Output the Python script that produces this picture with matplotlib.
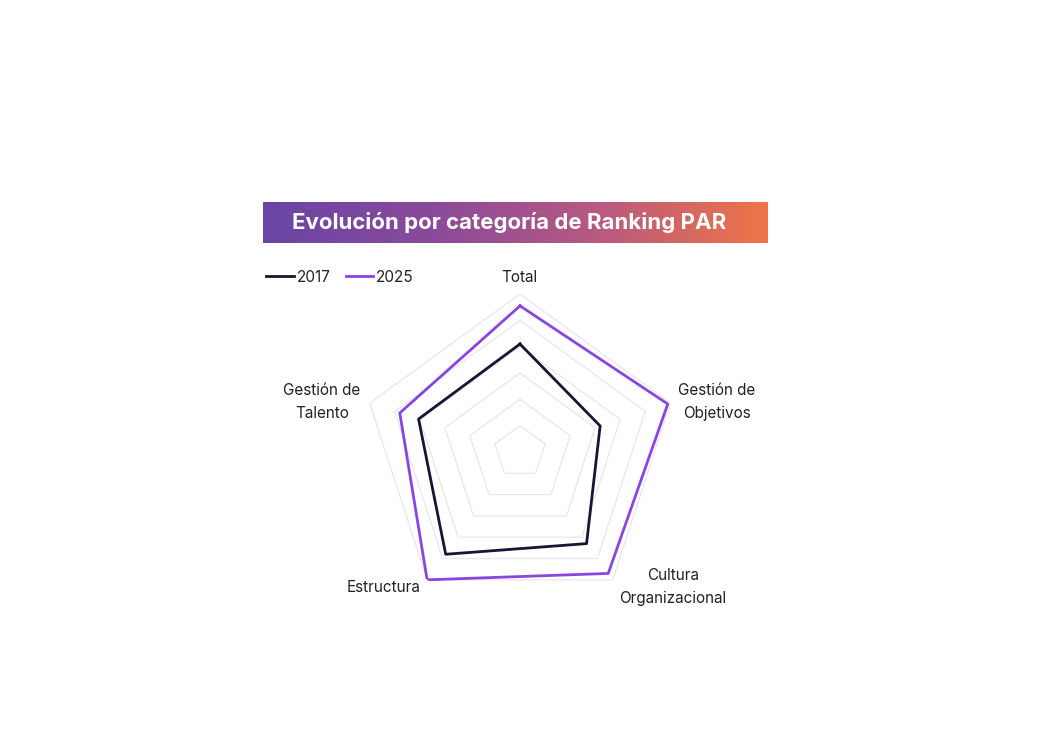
import numpy as np
import matplotlib
matplotlib.use("Agg")
import matplotlib.pyplot as plt
from matplotlib.colors import LinearSegmentedColormap

categories = ["Total", "Gestión de\nObjetivos", "Cultura\nOrganizacional", "Estructura", "Gestión de\nTalento"]
values_2017 = [4.1, 3.2, 4.3, 4.8, 4.05]
values_2025 = [5.55, 5.9, 5.7, 6.0, 4.8]
ring_levels = [1, 2, 3, 4, 5, 6]
series_labels = ["2017", "2025"]
series_colors = ["#1c1233", "#8a45e0"]
title = "Evolución por categoría de Ranking PAR"

plt.rcParams['font.family'] = ['Inter', 'DejaVu Sans']

W, H = 1059, 732
fig = plt.figure(figsize=(W / 100, H / 100), dpi=100)
fig.patch.set_facecolor("white")

# title banner with gradient
bx0, bx1, by0, by1 = 263, 768, 202, 243
tax = fig.add_axes([bx0 / W, 1 - by1 / H, (bx1 - bx0) / W, (by1 - by0) / H])
cmap = LinearSegmentedColormap.from_list("g", ["#6945a5", "#8a4a9a", "#b85a80", "#ef7446"])
grad = np.linspace(0, 1, 256).reshape(1, -1)
tax.imshow(grad, aspect="auto", cmap=cmap, extent=[0, 1, 0, 1])
tax.set_axis_off()
tax.text(0.487, 0.5, title, color="white", fontsize=16, fontweight="bold",
         ha="center", va="center", transform=tax.transAxes)

# radar
cx, cy, R = 520, 452, 158
ax = fig.add_axes([(cx - R) / W, 1 - (cy + R) / H, 2 * R / W, 2 * R / H], polar=True)
ax.set_theta_offset(np.pi / 2)
ax.set_theta_direction(-1)
n = len(categories)
angles = np.linspace(0, 2 * np.pi, n, endpoint=False)
ang_closed = np.concatenate([angles, angles[:1]])

for lv in ring_levels:
    ax.plot(ang_closed, [lv] * (n + 1), color="#e8e8e8", lw=0.9, zorder=1)

for vals, lab, col in zip([values_2017, values_2025], series_labels, series_colors):
    v = list(vals) + [vals[0]]
    ax.plot(ang_closed, v, color=col, lw=2.0, label=lab, zorder=3)

ax.set_ylim(0, max(ring_levels))
ax.set_yticks([])
ax.set_xticks([])
ax.grid(False)
ax.spines["polar"].set_visible(False)
ax.set_facecolor("none")

label_pos = [(519, 277), (717, 402), (673, 587), (384, 587), (322, 402)]
for lab, (lx, ly) in zip(categories, label_pos):
    fig.text(lx / W, 1 - ly / H, lab, ha="center", va="center", fontsize=11,
             color="#222222", linespacing=1.6)

leg = fig.legend(loc="center left", bbox_to_anchor=(266 / W, 1 - 277 / H), ncol=2,
                 frameon=False, fontsize=11, handlelength=1.8, handletextpad=0.2,
                 columnspacing=1.0, borderaxespad=0, borderpad=0)
for t in leg.get_texts():
    t.set_color("#222222")

fig.savefig("out.png", dpi=100, facecolor="white")
